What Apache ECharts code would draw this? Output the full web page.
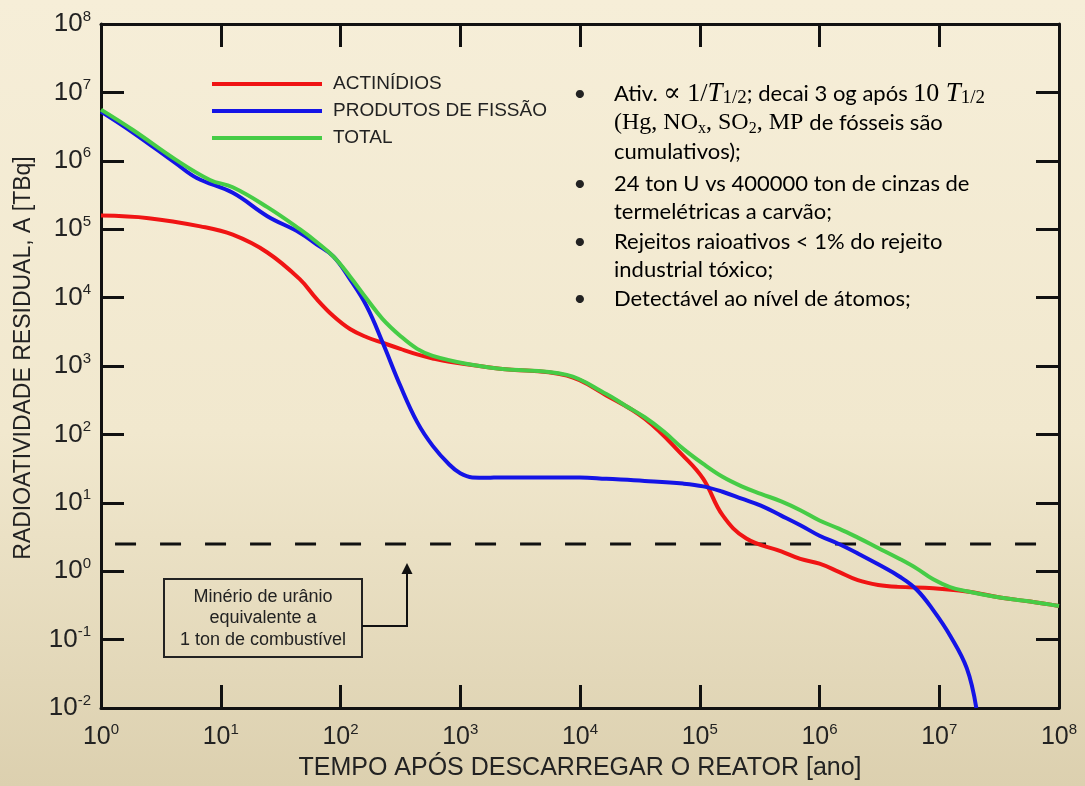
<!DOCTYPE html>
<html><head><meta charset="utf-8">
<script src="https://cdn.jsdelivr.net/npm/echarts@6/dist/echarts.min.js"></script>
<style>html,body{margin:0;padding:0;background:#F1E8CE;}#c{width:1085px;height:786px;}</style>
</head><body><div id="c"></div>
<script>
// ---- data (years after discharge, activity in TBq) ----
const actinidesT = [1, 2.5, 6.76, 12.6, 24.5, 45.7, 63.1, 87.1, 120, 166, 224, 316, 437, 589, 813, 2140, 7760, 16600, 34700, 72400, 107000, 155000, 245000, 479000, 692000, 1e6, 1.45e6, 2.09e6, 3.09e6, 4.47e6, 8.9e6, 1.70e7, 3.31e7, 5.75e7, 1e8];
const actinidesA = [1.58e5, 1.45e5, 1.10e5, 8.3e4, 4.57e4, 1.86e4, 9550, 5370, 3470, 2630, 2190, 1780, 1480, 1290, 1150, 912, 724, 372, 170, 49, 22.4, 6.6, 3.0, 1.95, 1.51, 1.29, 0.98, 0.74, 0.63, 0.59, 0.565, 0.505, 0.41, 0.36, 0.31];

const fissionT = [1, 1.86, 4.17, 6.31, 12.6, 24.5, 45.7, 63.1, 87.1, 120, 166, 224, 316, 437, 589, 813, 1000, 1260, 1700, 2140, 10000, 16600, 34700, 72400, 107000, 155000, 224000, 324000, 479000, 692000, 1e6, 1.45e6, 2.09e6, 3.09e6, 4.68e6, 6.46e6, 8.9e6, 1.23e7, 1.70e7, 2.04e7];
const fissionA = [5.25e6, 2.57e6, 9.3e5, 5.6e5, 3.4e5, 1.55e5, 8.9e4, 6.0e4, 4.0e4, 1.86e4, 7400, 2240, 513, 151, 68, 36, 27, 23.5, 23.2, 23.5, 23.5, 22.4, 20.9, 19.1, 17.4, 14.5, 11.5, 9.1, 6.5, 4.7, 3.3, 2.5, 1.82, 1.26, 0.83, 0.54, 0.27, 0.115, 0.038, 0.01];

const totalT = [1, 1.86, 4.17, 8.13, 12.6, 24.5, 45.7, 63.1, 87.1, 120, 166, 224, 316, 437, 589, 1150, 2140, 7760, 16600, 24000, 34700, 50100, 72400, 107000, 155000, 224000, 324000, 479000, 692000, 1e6, 1.45e6, 2.09e6, 3.09e6, 4.68e6, 6.46e6, 8.9e6, 1.23e7, 1.70e7, 3.31e7, 5.75e7, 1e8];
const totalA = [5.6e6, 2.8e6, 1.05e6, 5.25e5, 4.1e5, 2.1e5, 1e5, 6.5e4, 4e4, 2.04e4, 9550, 4900, 2750, 1780, 1410, 1070, 912, 741, 389, 263, 178, 110, 62, 37, 24, 17.4, 13.5, 10.5, 7.8, 5.5, 4.2, 3.1, 2.19, 1.51, 1.10, 0.76, 0.585, 0.51, 0.41, 0.36, 0.31];

// uranium ore equivalent to 1 ton of fuel (dashed reference)
const oreT = [1.31, 6.6e7];
const oreA = [2.5, 2.5];

const seriesNames = ['ACTINÍDIOS', 'PRODUTOS DE FISSÃO', 'TOTAL'];
const axisTitleX = 'TEMPO APÓS DESCARREGAR O REATOR [ano]';
const axisTitleY = 'RADIOATIVIDADE RESIDUAL, A [TBq]';
const noteLines = ['Minério de urânio', 'equivalente a', '1 ton de combustível'];

const zip = (a, b) => a.map((v, i) => [v, b[i]]);

const chart = echarts.init(document.getElementById('c'), null, {renderer: 'canvas'});

function powLabel(v) {
  const e = Math.round(Math.log10(v));
  return '{b|10}{s|' + e + '}';
}

const axisCommon = {
  type: 'log', logBase: 10,
  axisLine: {show: true, onZero: false, lineStyle: {color: '#111', width: 3}},
  axisTick: {show: true, inside: true, length: 23, lineStyle: {color: '#111', width: 3}},
  splitLine: {show: false},
  minorTick: {show: false}
};

const textColor = '#222';
const sansFont = '"Liberation Sans", Arial, sans-serif';
const mathFont = '"Liberation Serif", "DejaVu Serif", serif';
const bodyFont = 'Lato, "Open Sans", sans-serif';
const rich = {
  t: {fontFamily: bodyFont, fontSize: 22, color: textColor, lineHeight: 28},
  m: {fontFamily: mathFont, fontSize: 24, color: textColor, lineHeight: 28},
  M: {fontFamily: mathFont, fontSize: 26, color: textColor, lineHeight: 28},
  mi: {fontFamily: mathFont, fontSize: 27, fontStyle: 'italic', color: textColor, lineHeight: 28},
  sub: {fontFamily: mathFont, fontSize: 16, color: textColor, lineHeight: 14, verticalAlign: 'bottom'},
  sb: {fontFamily: mathFont, fontSize: 19, color: textColor, lineHeight: 16, verticalAlign: 'bottom'}
};
const bulletLines = [
  {y: 94, bullet: true, text: '{t|Ativ. }{M|∝ 1/}{mi|T}{sb|1/2}{t|; decai 3 og após }{M|10 }{mi|T}{sb|1/2}'},
  {y: 123, text: '{m|(Hg, NO}{sub|x}{m|, SO}{sub|2}{m|, MP }{t|de fósseis são}'},
  {y: 152, text: '{t|cumulativos);}'},
  {y: 184, bullet: true, text: '{t|24 ton U vs 400000 ton de cinzas de}'},
  {y: 212, text: '{t|termelétricas a carvão;}'},
  {y: 242, bullet: true, text: '{t|Rejeitos raioativos < 1% do rejeito}'},
  {y: 270, text: '{t|industrial tóxico;}'},
  {y: 299, bullet: true, text: '{t|Detectável ao nível de átomos;}'}
];
const graphics = [];
bulletLines.forEach(l => {
  if (l.bullet) graphics.push({type: 'text', x: 580, y: l.y, style: {text: '•', fontFamily: bodyFont, fontSize: 22, fill: textColor, align: 'center', verticalAlign: 'middle'}});
  graphics.push({type: 'text', x: 614, y: l.y, style: {text: l.text, rich: rich, align: 'left', verticalAlign: 'middle'}});
});
// y axis title
graphics.push({type: 'text', x: 24, y: 358, rotation: Math.PI / 2, style: {text: axisTitleY, fontFamily: sansFont, fontSize: 23, fill: textColor, align: 'center', verticalAlign: 'middle'}});
// annotation box
graphics.push({type: 'rect', shape: {x: 164, y: 579, width: 198, height: 78}, style: {fill: 'none', stroke: '#222', lineWidth: 2}});
noteLines.forEach((s, i) => graphics.push({type: 'text', x: 263, y: 597 + i * 21.5, style: {text: s, fontFamily: sansFont, fontSize: 18, fill: textColor, align: 'center', verticalAlign: 'middle'}}));
graphics.push({type: 'polyline', shape: {points: [[362, 626], [407, 626], [407, 572]]}, style: {stroke: '#111', lineWidth: 2, fill: 'none'}});
graphics.push({type: 'polygon', shape: {points: [[401.5, 574], [412.5, 574], [407, 563]]}, style: {fill: '#111'}});

const option = {
  backgroundColor: new echarts.graphic.LinearGradient(0, 0, 0, 1, [
    {offset: 0, color: '#F6EED8'}, {offset: 0.55, color: '#F1E8CE'}, {offset: 1, color: '#DCD0AF'}
  ]),
  animation: false,
  grid: {left: 101, top: 24, right: 26, bottom: 76, show: false},
  legend: {
    data: seriesNames, orient: 'vertical', left: 212, top: 74, padding: 0,
    itemWidth: 110, itemHeight: 4, itemGap: 7, icon: 'rect',
    textStyle: {fontFamily: sansFont, fontSize: 19, color: textColor, lineHeight: 20, padding: [0, 0, 0, 6]}
  },
  xAxis: [
    Object.assign({}, axisCommon, {
      position: 'bottom', min: 1, max: 1e8, interval: 1,
      name: axisTitleX, nameLocation: 'middle', nameGap: 48,
      nameTextStyle: {fontFamily: sansFont, fontSize: 25, color: textColor},
      axisLabel: {show: true, margin: 14, formatter: powLabel, rich: {
        b: {fontFamily: sansFont, fontSize: 25, color: textColor, lineHeight: 30},
        s: {fontFamily: sansFont, fontSize: 15, color: textColor, lineHeight: 16, verticalAlign: 'top'}
      }}
    }),
    Object.assign({}, axisCommon, {position: 'top', min: 1, max: 1e8, interval: 1, axisLabel: {show: false}})
  ],
  yAxis: [
    Object.assign({}, axisCommon, {
      position: 'left', min: 0.01, max: 1e8, interval: 1,
      axisLabel: {show: true, margin: 10, formatter: powLabel, rich: {
        b: {fontFamily: sansFont, fontSize: 26, color: textColor, lineHeight: 30},
        s: {fontFamily: sansFont, fontSize: 15, color: textColor, lineHeight: 16, verticalAlign: 'top'}
      }}
    }),
    Object.assign({}, axisCommon, {position: 'right', min: 0.01, max: 1e8, interval: 1, axisLabel: {show: false}})
  ],
  series: [
    {type: 'line', name: 'ore', data: zip(oreT, oreA), symbol: 'none', silent: true, z: 1,
      lineStyle: {color: '#111', width: 3, type: [21, 24]}},
    {type: 'line', name: seriesNames[0], data: zip(actinidesT, actinidesA), symbol: 'none', smooth: 0.4, z: 2,
      itemStyle: {color: '#F01414'}, lineStyle: {color: '#F01414', width: 4}},
    {type: 'line', name: seriesNames[1], data: zip(fissionT, fissionA), symbol: 'none', smooth: 0.4, z: 3,
      itemStyle: {color: '#1414E6'}, lineStyle: {color: '#1414E6', width: 4}},
    {type: 'line', name: seriesNames[2], data: zip(totalT, totalA), symbol: 'none', smooth: 0.4, z: 4,
      itemStyle: {color: '#46CC46'}, lineStyle: {color: '#46CC46', width: 4}}
  ],
  graphic: graphics
};
chart.setOption(option);
</script>
</body></html>
